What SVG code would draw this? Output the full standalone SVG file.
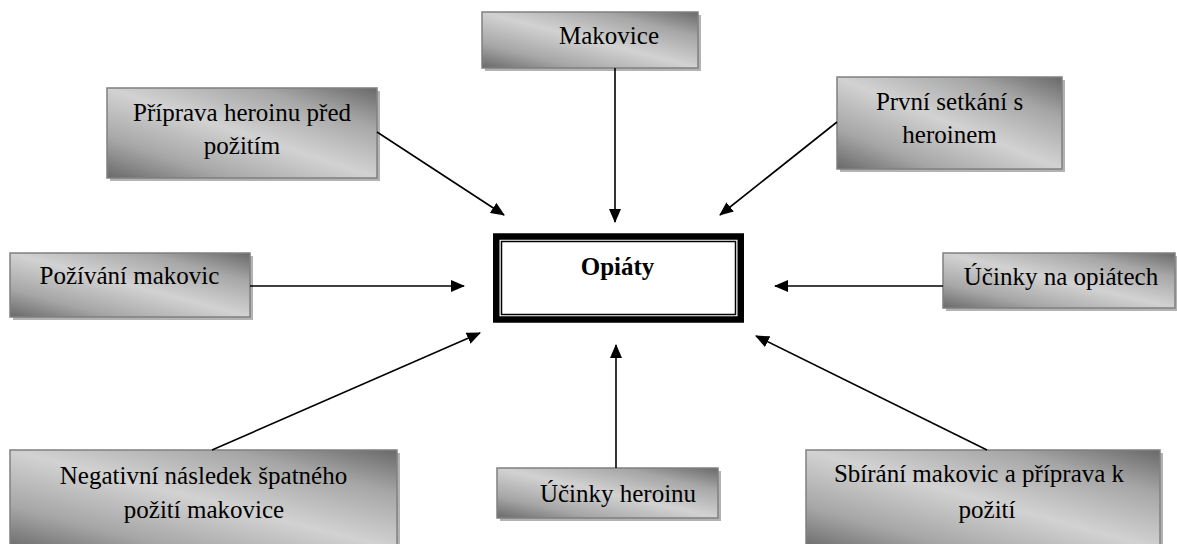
<svg xmlns="http://www.w3.org/2000/svg" width="1177" height="544" viewBox="0 0 1177 544">
<defs>
<linearGradient id="g" x1="0" y1="1" x2="1" y2="0">
<stop offset="0" stop-color="#696969"/>
<stop offset="0.22" stop-color="#a6a6a6"/>
<stop offset="0.5" stop-color="#d2d2d2"/>
<stop offset="0.78" stop-color="#a6a6a6"/>
<stop offset="1" stop-color="#696969"/>
</linearGradient>
<marker id="ah" markerUnits="userSpaceOnUse" markerWidth="14" markerHeight="12" refX="13" refY="6" orient="auto">
<path d="M0,0 L14,6 L0,12 z" fill="#000"/>
</marker>
</defs>
<style>
.sh{fill:#b3b3b3}
.bx{fill:url(#g);stroke:#808080;stroke-width:1.5}
text{font-family:'Liberation Serif','Times New Roman',Tinos,'DejaVu Serif',serif;font-size:25px;fill:#000;text-anchor:middle}
.b{font-weight:bold}
.c line{stroke:#000;stroke-width:1.6;marker-end:url(#ah)}
</style>
<rect width="1177" height="544" fill="#fff"/>

<g id="makovice">
<rect class="sh" x="485" y="15" width="216" height="56"/>
<rect class="bx" x="482" y="12" width="216" height="56"/>
<text font-family="Liberation Serif, serif" x="609" y="44">Makovice</text>
</g>

<g id="priprava">
<rect class="sh" x="110" y="91" width="270" height="90"/>
<rect class="bx" x="107" y="88" width="270" height="90"/>
<text font-family="Liberation Serif, serif" x="242" y="121">Příprava heroinu před</text>
<text font-family="Liberation Serif, serif" x="242" y="154">požitím</text>
</g>

<g id="prvni">
<rect class="sh" x="840" y="80" width="225" height="92"/>
<rect class="bx" x="837" y="77" width="225" height="92"/>
<text font-family="Liberation Serif, serif" x="949.5" y="110">První setkání s</text>
<text font-family="Liberation Serif, serif" x="949.5" y="143">heroinem</text>
</g>

<g id="pozivani">
<rect class="sh" x="13" y="256" width="240" height="64"/>
<rect class="bx" x="10" y="253" width="240" height="64"/>
<text font-family="Liberation Serif, serif" x="129.5" y="284">Požívání makovic</text>
</g>

<g id="ucinky-opiaty">
<rect class="sh" x="946" y="256" width="232" height="55"/>
<rect class="bx" x="943" y="253" width="232" height="55"/>
<text font-family="Liberation Serif, serif" x="1061" y="285">Účinky na opiátech</text>
</g>

<g id="opiaty">
<rect x="496.25" y="236.5" width="244.5" height="83" fill="#fff" stroke="#000" stroke-width="6.5"/>
<rect x="501.5" y="241.5" width="234" height="73" fill="none" stroke="#000" stroke-width="1.5"/>
<text class="b" font-family="Liberation Serif, serif" x="617.5" y="275">Opiáty</text>
</g>

<g id="negativni">
<rect class="sh" x="13" y="453" width="387" height="100"/>
<rect class="bx" x="10" y="450" width="387" height="100"/>
<text font-family="Liberation Serif, serif" x="203.5" y="484">Negativní následek špatného</text>
<text font-family="Liberation Serif, serif" x="204" y="518">požití makovice</text>
</g>

<g id="ucinky-heroinu">
<rect class="sh" x="500" y="471" width="221" height="50"/>
<rect class="bx" x="497" y="468" width="221" height="50"/>
<text font-family="Liberation Serif, serif" x="618" y="502">Účinky heroinu</text>
</g>

<g id="sbirani">
<rect class="sh" x="809" y="453" width="354" height="100"/>
<rect class="bx" x="806" y="450" width="354" height="100"/>
<text font-family="Liberation Serif, serif" x="979" y="482">Sbírání makovic a příprava k</text>
<text font-family="Liberation Serif, serif" x="987" y="518">požití</text>
</g>

<g id="connectors" class="c">
<line x1="615" y1="68" x2="615" y2="222"/>
<line x1="377" y1="132" x2="504" y2="215"/>
<line x1="837" y1="122" x2="720" y2="215"/>
<line x1="250" y1="286" x2="464" y2="286"/>
<line x1="943" y1="286" x2="775" y2="286"/>
<line x1="212" y1="450" x2="480" y2="333"/>
<line x1="616" y1="468" x2="616" y2="345"/>
<line x1="987" y1="450" x2="756" y2="336"/>
</g>
</svg>
